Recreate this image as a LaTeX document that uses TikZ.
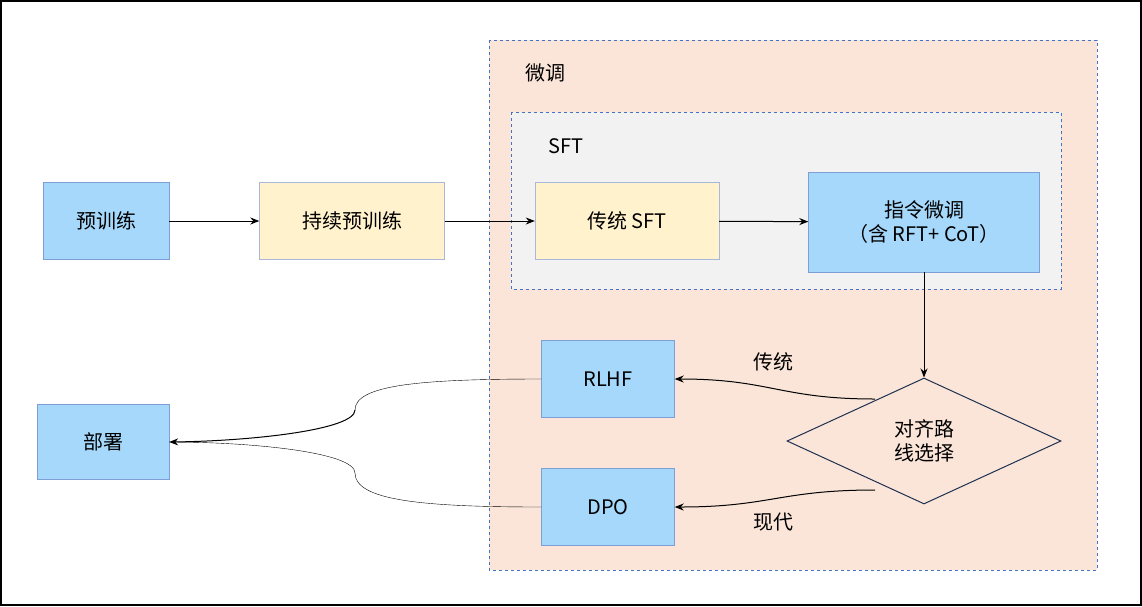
\documentclass[tikz,border=0pt]{standalone}
\usepackage{fontspec}
\setmainfont{Noto Sans CJK SC}
\usetikzlibrary{shapes.geometric,arrows.meta}
\definecolor{bl}{HTML}{A5D8FA}
\definecolor{blb}{HTML}{7E9FD6}
\definecolor{yl}{HTML}{FFF2CC}
\definecolor{ylb}{HTML}{A9B7D9}
\definecolor{pe}{HTML}{FAE5D8}
\definecolor{dsh}{HTML}{4472C4}
\definecolor{nv}{HTML}{1F3050}
\begin{document}
\begin{tikzpicture}[x=1pt,y=-1pt,
  box/.style={draw=blb,fill=bl,minimum width=#1,minimum height=77pt,inner sep=0pt,font=\fontsize{20}{24}\selectfont},
  ybox/.style={box=#1,fill=yl,draw=ylb},
  arr/.style={-{Stealth[length=9pt,width=7pt]},line width=1pt},
  lab/.style={font=\fontsize{20}{24}\selectfont}]
\useasboundingbox (0,0) rectangle (1142,606);
\draw[line width=1.2pt,fill=white] (1,1) rectangle (1141,605);
\draw[dsh,dashed,line width=1pt,fill=pe] (489,40) rectangle (1097,570);
\draw[dsh,dashed,line width=1pt,fill=black!5] (511,112) rectangle (1061,289);
\node[lab] (ft) at (545,73) {微调};
\node[lab] (sft) at (566,146) {SFT};
\node[box=126pt] (pre) at (106,221) {预训练};
\node[ybox=185pt] (cpt) at (352,221) {持续预训练};
\node[ybox=184pt] (tsft) at (627,221) {传统 SFT};
\node[box=231pt,minimum height=100pt,align=center] (ins) at (924,222) {指令微调\\（含 RFT+ CoT）};
\node[diamond,draw=nv,fill=pe,line width=1pt,minimum width=274pt,minimum height=126pt,inner sep=0pt,align=center,font=\fontsize{20}{24}\selectfont] (dia) at (924,441) {对齐路\\线选择};
\node[box=133pt] (rlhf) at (608,379) {RLHF};
\node[box=133pt] (dpo) at (608,507) {DPO};
\node[box=132pt,minimum height=75pt] (dep) at (103,442) {部署};
\draw[arr] (pre) -- (cpt);
\draw[arr] (cpt) -- (tsft);
\draw[arr] (tsft) -- (ins);
\draw[arr] (ins.south) -- (dia.north);
\coordinate (d1) at (875,399);
\coordinate (d2) at (875,490);
\draw[arr] (d1) .. controls (780,399) and (770,379) .. (rlhf.east);
\draw[arr] (d2) .. controls (780,490) and (770,507) .. (dpo.east);
\node[lab] (l1) at (773,362) {传统};
\node[lab] (l2) at (773,522) {现代};
\coordinate (m1) at (355,410);
\coordinate (m2) at (355,473);
\draw (rlhf.west) .. controls (420,379) and (355,385) .. (m1);
\draw[arr] (m1) .. controls (355,430) and (250,441) .. (dep.east);
\draw (dpo.west) .. controls (420,507) and (355,500) .. (m2);
\draw (m2) .. controls (355,452) and (250,442) .. (dep.east);
\end{tikzpicture}
\end{document}
